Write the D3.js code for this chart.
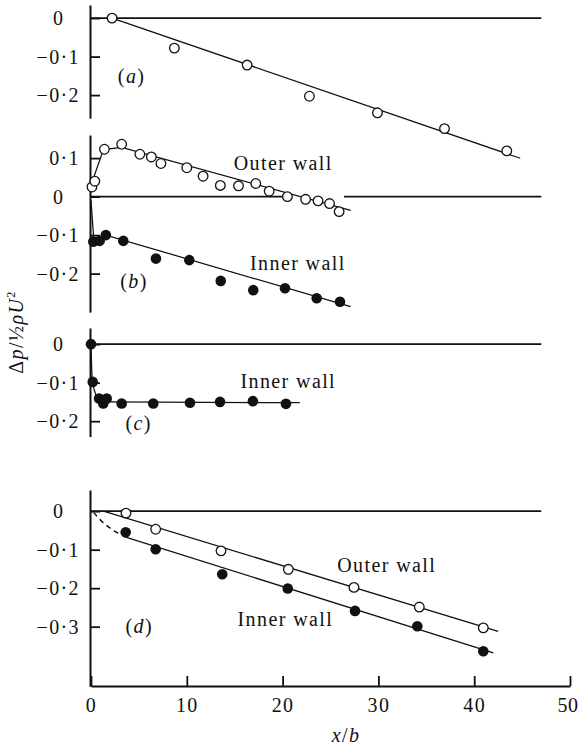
<!DOCTYPE html>
<html>
<head>
<meta charset="utf-8">
<script src="https://cdn.jsdelivr.net/npm/d3@7/dist/d3.min.js"></script>
<style>
  html, body { margin: 0; padding: 0; background: #fff; }
  svg { display: block; }
  text { font-family: "Liberation Serif", "DejaVu Serif", serif; fill: #111; }
</style>
</head>
<body>
<script>
// x/b axis
const xTicks = [0, 10, 20, 30, 40, 50];

// (a) single wall
const aX = [2.2, 8.7, 16.3, 22.8, 29.9, 36.9, 43.4];
const aY = [0.0, -0.078, -0.122, -0.203, -0.246, -0.287, -0.345];
const aFitX = [2.2, 44.8];
const aFitY = [0.0, -0.364];

// (b) outer wall (open) and inner wall (filled)
const bOuterX = [0.1, 0.4, 1.4, 3.2, 5.1, 6.3, 7.3, 10.0, 11.7, 13.5, 15.4, 17.2, 18.6, 20.5, 22.4, 23.7, 24.9, 25.9];
const bOuterY = [0.025, 0.040, 0.123, 0.136, 0.110, 0.103, 0.086, 0.075, 0.053, 0.029, 0.028, 0.034, 0.014, 0.0, -0.007, -0.011, -0.018, -0.039];
const bOuterFitX = [0.0, 1.3, 3.2, 27.1];
const bOuterFitY = [0.03, 0.122, 0.128, -0.036];
const bInnerX = [0.24, 0.9, 1.55, 3.37, 6.78, 10.26, 13.54, 16.94, 20.25, 23.56, 25.99];
const bInnerY = [-0.117, -0.115, -0.100, -0.115, -0.161, -0.165, -0.219, -0.243, -0.238, -0.264, -0.273];
const bInnerFitX = [0.0, 0.3, 1.55, 27.1];
const bInnerFitY = [-0.01, -0.115, -0.100, -0.286];

// (c) inner wall
const cInnerX = [0.0, 0.18, 0.84, 1.28, 1.64, 3.2, 6.5, 10.33, 13.47, 16.9, 20.35];
const cInnerY = [0.0, -0.098, -0.141, -0.154, -0.141, -0.154, -0.154, -0.152, -0.150, -0.148, -0.155];
const cInnerFitX = [0.0, 0.15, 0.9, 1.6, 21.8];
const cInnerFitY = [0.0, -0.100, -0.145, -0.150, -0.152];

// (d) outer wall (open) and inner wall (filled)
const dOuterX = [3.65, 6.75, 13.57, 20.6, 27.45, 34.27, 40.95];
const dOuterY = [-0.005, -0.047, -0.103, -0.151, -0.198, -0.249, -0.303];
const dOuterFitX = [1.3, 42.5];
const dOuterFitY = [0.0, -0.312];
const dInnerX = [3.62, 6.75, 13.7, 20.54, 27.56, 34.06, 40.95];
const dInnerY = [-0.055, -0.099, -0.164, -0.201, -0.259, -0.299, -0.364];
const dInnerFitX = [3.7, 42.0];
const dInnerFitY = [-0.068, -0.368];
const dInnerDashX = [0.3, 1.2, 2.4, 3.7];
const dInnerDashY = [-0.004, -0.030, -0.052, -0.068];

// y tick values per panel
const aTicks = [0, -0.1, -0.2];
const bTicks = [0.1, 0, -0.1, -0.2];
const cTicks = [0, -0.1, -0.2];
const dTicks = [0, -0.1, -0.2, -0.3];

const zip = (xs, ys) => xs.map((v, i) => [v, ys[i]]);

const W = 579, H = 754;
const INK = "#111";
const PX_PER_UNIT = 385;      // vertical pixels per unit of Δp/½ρU²
const FONT = 20;

const svg = d3.select("body").append("svg")
  .attr("width", W).attr("height", H)
  .style("font-size", FONT + "px")
  .style("letter-spacing", "1.4px");

const x = d3.scaleLinear().domain([0, 50]).range([91, 570]);

const fmt = v => v === 0 ? "0" : (v < 0 ? "\u2212" : "") + "0\u00B7" + Math.round(Math.abs(v) * 10);

const panels = [
  { key: "a", top: 5,   dom: [-0.26, 0.034],  ticks: aTicks, zero: [[0, 47.0]],
    label: [2.8, -0.169],
    lines: [{ d: zip(aFitX, aFitY) }],
    open: [zip(aX, aY)], filled: [],
    notes: [] },
  { key: "b", top: 135, dom: [-0.30, 0.16],   ticks: bTicks, zero: [[0, 20.5], [26.4, 47.0]],
    label: [3.05, -0.238],
    lines: [{ d: zip(bOuterFitX, bOuterFitY) }, { d: zip(bInnerFitX, bInnerFitY) }],
    open: [zip(bOuterX, bOuterY)], filled: [zip(bInnerX, bInnerY)],
    notes: [{ t: "Outer wall", at: [14.9, 0.069] }, { t: "Inner wall", at: [16.6, -0.191] }] },
  { key: "c", top: 328, dom: [-0.24, 0.042],  ticks: cTicks, zero: [[0, 47.0]],
    label: [3.6, -0.223],
    lines: [{ d: zip(cInnerFitX, cInnerFitY), curve: d3.curveMonotoneX }],
    open: [], filled: [zip(cInnerX, cInnerY)],
    notes: [{ t: "Inner wall", at: [15.6, -0.114] }] },
  { key: "d", top: 490, dom: [-0.455, 0.055], ticks: dTicks, zero: [[0, 47.0]],
    label: [3.6, -0.317],
    lines: [{ d: zip(dOuterFitX, dOuterFitY) }, { d: zip(dInnerFitX, dInnerFitY) },
            { d: zip(dInnerDashX, dInnerDashY), curve: d3.curveBasis, dash: "5,4" }],
    open: [zip(dOuterX, dOuterY)], filled: [zip(dInnerX, dInnerY)],
    notes: [{ t: "Outer wall", at: [25.7, -0.158] }, { t: "Inner wall", at: [15.3, -0.298] }] }
];

panels.forEach(p => {
  const bottom = p.top + (p.dom[1] - p.dom[0]) * PX_PER_UNIT;
  const y = d3.scaleLinear().domain(p.dom).range([bottom, p.top]);
  const g = svg.append("g").attr("class", "panel-" + p.key);

  // y axis with inward ticks
  const ax = g.append("g")
    .attr("transform", `translate(${x(0) - 1},0)`)
    .call(d3.axisLeft(y).tickValues(p.ticks).tickSizeInner(-10).tickSizeOuter(0)
      .tickPadding(10).tickFormat(fmt));
  ax.attr("font-family", null).attr("font-size", null);
  ax.select(".domain").attr("stroke", INK).attr("stroke-width", 2);
  ax.selectAll(".tick line").attr("stroke", INK).attr("stroke-width", 1.8);
  ax.selectAll(".tick text").attr("fill", INK).attr("dy", "0.34em");
  // the zero label lines up with the leading digit of the decimals
  ax.selectAll(".tick text").filter(d => d === 0)
    .attr("text-anchor", "start").attr("x", -37);

  // zero reference line
  p.zero.forEach(seg => {
    g.append("line")
      .attr("x1", x(seg[0])).attr("x2", x(seg[1]))
      .attr("y1", y(0)).attr("y2", y(0))
      .attr("stroke", INK).attr("stroke-width", 1.8);
  });

  // fitted curves
  p.lines.forEach(L => {
    const gen = d3.line().x(d => x(d[0])).y(d => y(d[1])).curve(L.curve || d3.curveLinear);
    g.append("path").attr("d", gen(L.d))
      .attr("fill", "none").attr("stroke", INK).attr("stroke-width", L.dash ? 1.5 : 1.25)
      .attr("stroke-dasharray", L.dash || null);
  });

  // measurements
  p.open.forEach(s => {
    g.append("g").selectAll("circle").data(s).join("circle")
      .attr("cx", d => x(d[0])).attr("cy", d => y(d[1])).attr("r", 4.8)
      .attr("fill", "#fff").attr("stroke", INK).attr("stroke-width", 1.3);
  });
  p.filled.forEach(s => {
    g.append("g").selectAll("circle").data(s).join("circle")
      .attr("cx", d => x(d[0])).attr("cy", d => y(d[1])).attr("r", 5.3)
      .attr("fill", INK);
  });

  // panel tag
  const tag = g.append("text").attr("x", x(p.label[0])).attr("y", y(p.label[1]));
  tag.append("tspan").text("(");
  tag.append("tspan").attr("font-style", "italic").text(p.key);
  tag.append("tspan").text(")");

  p.notes.forEach(n => {
    g.append("text").attr("x", x(n.at[0])).attr("y", y(n.at[1])).text(n.t);
  });
});

// shared x axis with upward ticks
const xa = svg.append("g").attr("transform", "translate(0,686)")
  .call(d3.axisBottom(x).tickValues(xTicks).tickSizeInner(-10).tickSizeOuter(0).tickPadding(12));
xa.attr("font-family", null).attr("font-size", null);
xa.select(".domain").attr("stroke", INK).attr("stroke-width", 2);
xa.selectAll(".tick line").attr("stroke", INK).attr("stroke-width", 1.8);
xa.selectAll(".tick text").attr("fill", INK);
// keep the last label inside the right edge
xa.selectAll(".tick text").filter(d => d === 50)
  .attr("text-anchor", "end").attr("x", W - 1 - x(50)).style("letter-spacing", "0.5px");

// axis titles
const xt = svg.append("text").attr("x", 346).attr("y", 742).attr("text-anchor", "middle");
xt.append("tspan").attr("font-style", "italic").text("x");
xt.append("tspan").text("/");
xt.append("tspan").attr("font-style", "italic").text("b");

const yt = svg.append("text").attr("transform", "translate(23,332) rotate(-90)")
  .attr("text-anchor", "middle");
yt.append("tspan").text("\u0394");
yt.append("tspan").attr("font-style", "italic").text("p");
yt.append("tspan").text("/\u00BD");
yt.append("tspan").attr("font-style", "italic").text("\u03C1U");
yt.append("tspan").attr("font-size", "12px").attr("dy", "-8").text("2");
</script>
</body>
</html>
